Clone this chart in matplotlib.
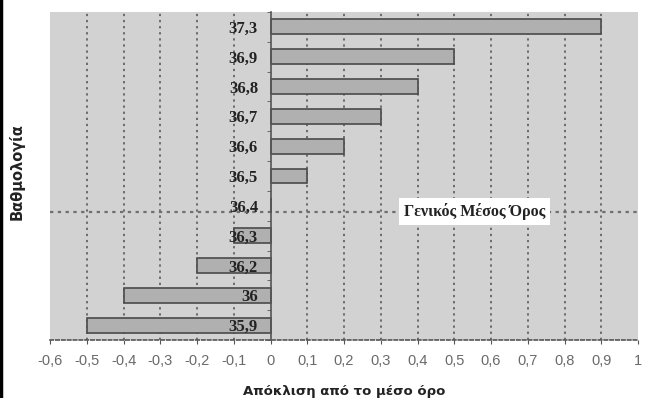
import matplotlib
matplotlib.use("Agg")
import matplotlib.pyplot as plt
from matplotlib.lines import Line2D
import numpy as np

categories = ["37,3", "36,9", "36,8", "36,7", "36,6", "36,5", "36,4", "36,3", "36,2", "36", "35,9"]
deviation = [0.9, 0.5, 0.4, 0.3, 0.2, 0.1, 0.0, -0.1, -0.2, -0.4, -0.5]
mean_category = "36,4"
mean_label = "Γενικός Μέσος Όρος"
xticks = [-0.6, -0.5, -0.4, -0.3, -0.2, -0.1, 0.0, 0.1, 0.2, 0.3, 0.4, 0.5, 0.6, 0.7, 0.8, 0.9, 1.0]
xtick_labels = ["-0,6", "-0,5", "-0,4", "-0,3", "-0,2", "-0,1", "0", "0,1", "0,2", "0,3", "0,4",
                "0,5", "0,6", "0,7", "0,8", "0,9", "1"]

fig = plt.figure(figsize=(6.48, 3.98), dpi=100)
ax = fig.add_axes([50 / 648, 1 - 340 / 398, 588 / 648, 328 / 398])
ax.set_facecolor("#d2d2d2")

y = np.arange(len(categories))
ax.barh(y, deviation, height=0.5, color="#b0b0b0", edgecolor="#4a4a4a", linewidth=1.2, zorder=2.2)

ax.set_xlim(-0.6, 1.0)
ax.set_ylim(len(categories) - 0.5, -0.5)

# vertical dotted grid
for t in xticks[1:-1]:
    if t != 0:
        ax.axvline(t, color="#505050", linestyle=(0, (1.5, 2.5)), linewidth=1.1, zorder=1)

# mean line
mi = categories.index(mean_category)
ax.axhline(mi + 0.2, color="#707070", linestyle=(0, (1.5, 2.0)), linewidth=1.6, zorder=2.1)
ax.text(0.555, mi + 0.2, mean_label, ha="center", va="center", fontsize=11.5, fontweight="bold",
        family="Liberation Serif", color="#222222", zorder=5,
        bbox=dict(boxstyle="square,pad=0.3", facecolor="white", edgecolor="none"))

# spines
for s in ["top", "right"]:
    ax.spines[s].set_visible(False)
ax.spines["left"].set_position(("data", 0))
ax.spines["left"].set_color("#555555")
ax.spines["left"].set_linewidth(1.2)
ax.spines["left"].set_zorder(4)
ax.spines["bottom"].set_color("#555555")
ax.spines["bottom"].set_linestyle((0, (2, 1.5)))
ax.spines["bottom"].set_linewidth(1.2)

ax.set_yticks(y)
ax.set_yticklabels(categories, fontsize=12, fontweight="bold", family="Liberation Serif", color="#222222")
ax.tick_params(axis="y", which="major", length=0, pad=9)
ax.set_yticks(np.arange(len(categories) + 1) - 0.5, minor=True)
ax.tick_params(axis="y", which="minor", length=3, color="#555555", direction="out")
ax.yaxis.set_zorder(3)

ax.set_xticks(xticks)
ax.set_xticklabels(xtick_labels, fontsize=10.5, color="#6a6a6a", family="Liberation Sans")
ax.tick_params(axis="x", length=3, color="#555555", pad=7)

ax.set_xlabel("Απόκλιση από το μέσο όρο", fontsize=9.5, fontweight="bold", family="DejaVu Sans",
              color="#222222", labelpad=12)
fig.text(17 / 648, 1 - 172 / 398, "Βαθμολογία", rotation=90, ha="center", va="center",
         fontsize=10.5, fontweight="bold", family="DejaVu Sans", color="#222222")

fig.add_artist(Line2D([0.002, 0.002], [0, 1], transform=fig.transFigure, color="black", linewidth=2.5))

fig.savefig("out.png", dpi=100, facecolor="white")
